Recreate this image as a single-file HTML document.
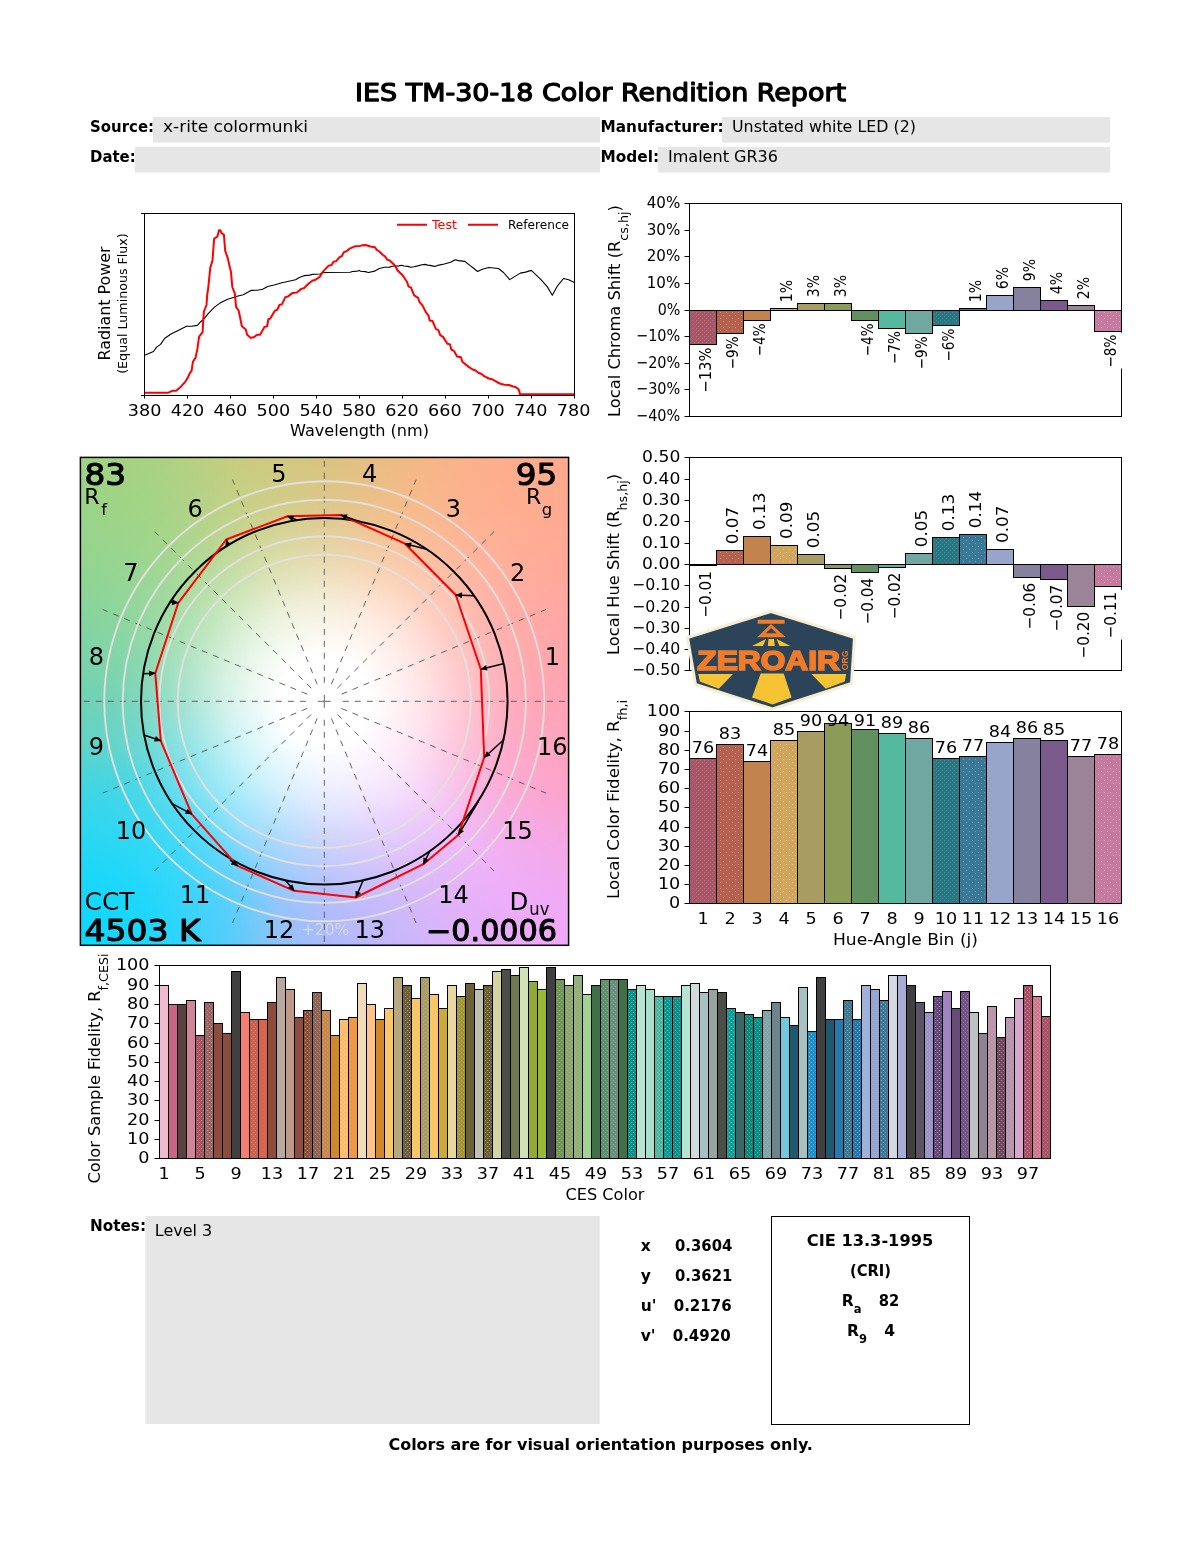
<!DOCTYPE html>
<html lang="en"><head><meta charset="utf-8"><title>IES TM-30-18 Color Rendition Report</title>
<style>
html,body{margin:0;padding:0;background:#fff}
#page{position:relative;width:1200px;height:1550px;overflow:hidden;background:#fff}
#cvgbg{position:absolute;left:80px;top:457px;width:489px;height:488.5px;background:radial-gradient(circle at 0% 100%, rgba(10,216,252,1) 0px, rgba(10,216,252,0.75) 70px, rgba(10,216,252,0) 200px),radial-gradient(circle at 100% 100%, rgba(240,165,250,0.8) 0px, rgba(240,165,250,0) 150px),radial-gradient(circle at 100% 0%, rgba(255,168,138,0.8) 0px, rgba(255,168,138,0) 150px),radial-gradient(circle at 0% 0%, rgba(156,212,126,0.6) 0px, rgba(156,212,126,0) 150px),radial-gradient(circle at 244.3px 244.3px,rgba(255,255,255,1) 0px, rgba(255,255,255,1) 45px, rgba(255,255,255,0.92) 60px, rgba(255,255,255,0.82) 80px, rgba(255,255,255,0.7) 100px, rgba(255,255,255,0.55) 120px, rgba(255,255,255,0.4) 140px, rgba(255,255,255,0.28) 160px, rgba(255,255,255,0.15) 183px, rgba(255,255,255,0.07) 210px, rgba(255,255,255,0.03) 244px, rgba(255,255,255,0) 300px),conic-gradient(from 90deg at 244.3px 244.3px,rgb(255, 160, 178) 0deg, rgb(252, 162, 205) 22.5deg, rgb(238, 178, 248) 45deg, rgb(208, 180, 250) 67.5deg, rgb(168, 184, 251) 90deg, rgb(115, 200, 250) 112.5deg, rgb(80, 214, 246) 135deg, rgb(75, 212, 220) 157.5deg, rgb(106, 208, 178) 180deg, rgb(135, 212, 152) 202.5deg, rgb(160, 212, 136) 225deg, rgb(195, 205, 126) 247.5deg, rgb(216, 194, 124) 270deg, rgb(245, 182, 130) 292.5deg, rgb(255, 176, 148) 315deg, rgb(255, 166, 160) 337.5deg, rgb(255, 160, 178) 360deg)}
svg{position:absolute;left:0;top:0}
text{font-family:"DejaVu Sans","Liberation Sans",sans-serif}
</style></head><body><div id="page">
<div id="cvgbg"></div>
<svg width="1200" height="1550" viewBox="0 0 1200 1550">
<defs>
<marker id="ah" viewBox="0 0 10 10" refX="9.5" refY="5" markerWidth="8" markerHeight="6.5" orient="auto" markerUnits="userSpaceOnUse"><path d="M0,0.5 L10,5 L0,9.5 z" fill="#000"/></marker>
<pattern id="dt0" width="4" height="4" patternUnits="userSpaceOnUse"><rect x="0" y="0" width="1" height="1" fill="#c87838" fill-opacity="0.8"/><rect x="2" y="2" width="1" height="1" fill="#c87838" fill-opacity="0.8"/></pattern><pattern id="dt1" width="6" height="6" patternUnits="userSpaceOnUse"><rect x="0" y="0" width="1" height="1" fill="#dca040" fill-opacity="0.8"/><rect x="3" y="3" width="1" height="1" fill="#dca040" fill-opacity="0.8"/></pattern><pattern id="dt3" width="6" height="6" patternUnits="userSpaceOnUse"><rect x="0" y="0" width="1" height="1" fill="#e8d070" fill-opacity="0.8"/><rect x="3" y="3" width="1" height="1" fill="#e8d070" fill-opacity="0.8"/></pattern><pattern id="dt5" width="4" height="4" patternUnits="userSpaceOnUse"><rect x="0" y="0" width="1" height="1" fill="#70a860" fill-opacity="0.8"/><rect x="2" y="2" width="1" height="1" fill="#70a860" fill-opacity="0.8"/></pattern><pattern id="dt9" width="4" height="4" patternUnits="userSpaceOnUse"><rect x="0" y="0" width="1" height="1" fill="#409878" fill-opacity="0.8"/><rect x="2" y="2" width="1" height="1" fill="#409878" fill-opacity="0.8"/></pattern><pattern id="dt10" width="6" height="6" patternUnits="userSpaceOnUse"><rect x="0" y="0" width="1" height="1" fill="#70a8c8" fill-opacity="0.8"/><rect x="3" y="3" width="1" height="1" fill="#70a8c8" fill-opacity="0.8"/></pattern><pattern id="dt15" width="6" height="6" patternUnits="userSpaceOnUse"><rect x="0" y="0" width="1" height="1" fill="#e0a0b8" fill-opacity="0.8"/><rect x="3" y="3" width="1" height="1" fill="#e0a0b8" fill-opacity="0.8"/></pattern>
<pattern id="dw" width="4" height="4" patternUnits="userSpaceOnUse"><rect x="1" y="0" width="1" height="1" fill="#e0b050" fill-opacity="0.55"/><rect x="3" y="2" width="1" height="1" fill="#e0b050" fill-opacity="0.55"/></pattern>
<pattern id="dc" width="4" height="4" patternUnits="userSpaceOnUse"><rect x="1" y="0" width="1" height="1" fill="#90c8e0" fill-opacity="0.5"/><rect x="3" y="2" width="1" height="1" fill="#90c8e0" fill-opacity="0.5"/></pattern>
</defs>

<text x="600.60" y="101.00" font-size="24.5" text-anchor="middle" textLength="491.00" lengthAdjust="spacingAndGlyphs" stroke="#000" stroke-width="1.25" stroke-linejoin="round">IES TM-30-18 Color Rendition Report</text>
<rect x="153" y="117" width="447" height="25.5" fill="#e6e6e6"/>
<rect x="135" y="147" width="465" height="25.5" fill="#e6e6e6"/>
<rect x="722" y="117" width="388" height="25.5" fill="#e6e6e6"/>
<rect x="658" y="147" width="452" height="25.5" fill="#e6e6e6"/>
<text x="90.00" y="132.00" font-size="15.5" font-weight="bold" textLength="64.00" lengthAdjust="spacingAndGlyphs">Source:</text>
<text x="90.00" y="162.00" font-size="15.5" font-weight="bold" textLength="45.70" lengthAdjust="spacingAndGlyphs">Date:</text>
<text x="600.60" y="132.00" font-size="15.5" font-weight="bold" textLength="123.00" lengthAdjust="spacingAndGlyphs">Manufacturer:</text>
<text x="600.60" y="162.00" font-size="15.5" font-weight="bold" textLength="58.50" lengthAdjust="spacingAndGlyphs">Model:</text>
<text x="163.00" y="132.00" font-size="16" textLength="145.00" lengthAdjust="spacingAndGlyphs">x-rite colormunki</text>
<text x="732.00" y="132.00" font-size="16" textLength="184.00" lengthAdjust="spacingAndGlyphs">Unstated white LED (2)</text>
<text x="668.00" y="162.00" font-size="16" textLength="110.00" lengthAdjust="spacingAndGlyphs">Imalent GR36</text>
<g fill="none">
<polyline stroke="#000" stroke-width="1.1" stroke-linejoin="round" points="144.6,355.3 153.5,351.5 156.8,346.9 160.6,344.4 164.5,338.5 171.0,334.0 178.7,330.2 186.5,326.3 191.6,326.3 197.4,325.4 200.6,321.8 203.2,319.8 208.4,313.4 214.8,306.9 220.0,303.1 227.7,299.2 238.1,296.0 243.2,294.7 251.0,290.4 257.4,290.2 262.6,289.3 267.7,286.5 274.2,285.0 281.9,282.8 287.7,281.5 295.5,279.8 299.4,277.5 304.5,275.6 309.7,275.1 312.3,274.4 320.0,274.0 323.9,272.5 350.3,272.2 352.3,271.5 357.4,271.1 359.4,270.4 360.6,271.2 365.2,271.6 368.4,272.5 374.8,271.1 379.4,268.5 384.5,267.3 389.7,267.1 392.3,266.3 398.7,265.9 401.9,265.3 403.9,266.0 407.7,266.4 411.0,267.3 414.2,266.7 418.7,265.6 421.9,264.7 425.2,264.4 427.7,265.1 430.0,265.4 434.5,266.4 437.7,265.4 444.2,264.0 450.6,262.2 455.2,259.7 458.4,260.6 464.8,261.4 477.7,271.5 481.6,269.5 488.7,267.5 498.4,268.5 503.5,272.5 509.7,279.6 520.3,273.1 525.5,272.1 531.3,270.4 541.0,279.6 547.4,286.9 552.3,295.3 557.7,285.6 563.5,278.5 568.7,279.8 574.3,282.4"/>
<polyline stroke="#f00" stroke-width="2" stroke-linejoin="round" points="144.6,392.7 168.4,392.7 172.3,390.8 176.1,390.8 180.6,386.9 185.2,381.8 187.7,377.9 189.7,373.4 191.6,370.8 192.9,361.8 195.5,357.9 197.4,348.9 199.1,336.6 202.6,332.1 203.2,321.1 203.9,311.5 206.5,305.0 207.1,296.0 208.4,286.3 209.3,277.3 210.3,267.6 212.5,260.5 213.3,249.5 214.2,238.5 217.4,236.6 219.0,230.2 220.3,230.2 221.3,232.7 223.9,234.7 225.2,250.8 227.7,257.9 229.9,267.6 231.0,272.1 232.3,286.9 234.8,293.4 236.1,306.9 238.7,310.8 241.9,326.3 245.8,329.5 247.1,334.7 251.0,337.9 253.5,337.3 257.4,334.7 260.0,334.7 264.5,326.9 267.1,326.3 268.4,319.2 270.3,318.5 274.8,310.8 277.4,309.5 279.4,305.0 281.9,304.4 285.2,297.3 287.7,296.6 292.3,293.1 296.8,292.5 301.3,288.9 303.9,288.2 308.4,283.7 312.3,280.7 315.5,279.8 320.0,276.6 322.6,272.1 326.5,267.8 329.0,265.6 331.6,265.0 333.5,261.8 336.1,261.1 339.4,257.3 341.9,256.0 343.9,252.1 346.5,251.2 349.7,248.6 354.8,246.3 360.0,245.9 363.9,245.0 366.5,245.3 370.3,246.5 374.8,247.2 376.8,249.8 379.4,251.5 382.6,254.7 385.2,256.6 387.1,259.6 389.7,260.5 392.9,263.5 395.5,266.3 397.4,270.2 402.6,275.3 407.1,282.0 408.4,286.3 411.0,287.6 414.2,295.3 418.1,297.9 419.4,301.8 422.6,305.6 425.8,312.1 428.4,315.3 429.7,320.5 432.6,321.1 435.8,328.9 438.4,330.2 440.3,335.3 442.9,336.6 447.4,343.7 450.0,344.4 451.3,349.5 453.9,350.8 457.1,356.6 461.0,357.3 462.3,361.8 468.7,366.9 472.6,369.5 475.2,370.2 478.4,372.7 481.6,374.0 484.2,376.2 488.7,378.5 491.9,379.2 495.8,381.4 499.7,383.5 504.2,384.7 508.7,385.0 512.6,386.3 515.8,387.2 518.4,389.1 519.4,391.5 519.9,394.3 574.3,394.3"/>
<rect x="144.5" y="213.5" width="430" height="182" stroke="#000" stroke-width="1"/>
<path stroke="#000" stroke-width="1" d="M141,213.5H144.5M141,395.5H144.5M144.5,395.5v3M187.5,395.5v3M230.5,395.5v3M273.5,395.5v3M316.5,395.5v3M359.5,395.5v3M402.5,395.5v3M445.5,395.5v3M488.5,395.5v3M531.5,395.5v3M574.5,395.5v3"/>
<path stroke="#f00" stroke-width="2" d="M397,224.7H427M468,224.7H498"/>
</g>
<text x="144.60" y="416.00" font-size="16" text-anchor="middle" textLength="33.59" lengthAdjust="spacingAndGlyphs">380</text>
<text x="187.50" y="416.00" font-size="16" text-anchor="middle" textLength="33.59" lengthAdjust="spacingAndGlyphs">420</text>
<text x="230.40" y="416.00" font-size="16" text-anchor="middle" textLength="33.59" lengthAdjust="spacingAndGlyphs">460</text>
<text x="273.30" y="416.00" font-size="16" text-anchor="middle" textLength="33.59" lengthAdjust="spacingAndGlyphs">500</text>
<text x="316.20" y="416.00" font-size="16" text-anchor="middle" textLength="33.59" lengthAdjust="spacingAndGlyphs">540</text>
<text x="359.10" y="416.00" font-size="16" text-anchor="middle" textLength="33.59" lengthAdjust="spacingAndGlyphs">580</text>
<text x="402.00" y="416.00" font-size="16" text-anchor="middle" textLength="33.59" lengthAdjust="spacingAndGlyphs">620</text>
<text x="444.90" y="416.00" font-size="16" text-anchor="middle" textLength="33.59" lengthAdjust="spacingAndGlyphs">660</text>
<text x="487.80" y="416.00" font-size="16" text-anchor="middle" textLength="33.59" lengthAdjust="spacingAndGlyphs">700</text>
<text x="530.70" y="416.00" font-size="16" text-anchor="middle" textLength="33.59" lengthAdjust="spacingAndGlyphs">740</text>
<text x="573.60" y="416.00" font-size="16" text-anchor="middle" textLength="33.59" lengthAdjust="spacingAndGlyphs">780</text>
<text x="359.50" y="436.30" font-size="16" text-anchor="middle" textLength="139.00" lengthAdjust="spacingAndGlyphs">Wavelength (nm)</text>
<text x="110.00" y="303.50" font-size="16" text-anchor="middle" textLength="114.00" lengthAdjust="spacingAndGlyphs" transform="rotate(-90 110.00 303.50)">Radiant Power</text>
<text x="126.50" y="303.50" font-size="12" text-anchor="middle" textLength="140.60" lengthAdjust="spacingAndGlyphs" transform="rotate(-90 126.50 303.50)">(Equal Luminous Flux)</text>
<text x="432.00" y="228.80" font-size="12.5" textLength="25.00" lengthAdjust="spacingAndGlyphs" fill="#f00">Test</text>
<text x="508.00" y="228.80" font-size="12.5" textLength="61.00" lengthAdjust="spacingAndGlyphs">Reference</text>
<rect x="689.5" y="203.5" width="432" height="213" fill="none" stroke="#000" stroke-width="1"/>
<rect x="697.00" y="345.35" width="20.5" height="48.40" fill="#fff"/>
<rect x="724.00" y="334.35" width="20.5" height="35.90" fill="#fff"/>
<rect x="751.00" y="321.35" width="20.5" height="35.90" fill="#fff"/>
<rect x="778.00" y="277.90" width="20.5" height="25.30" fill="#fff"/>
<rect x="805.00" y="272.90" width="20.5" height="25.30" fill="#fff"/>
<rect x="832.00" y="272.90" width="20.5" height="25.30" fill="#fff"/>
<rect x="859.00" y="321.35" width="20.5" height="35.90" fill="#fff"/>
<rect x="886.00" y="329.10" width="20.5" height="35.90" fill="#fff"/>
<rect x="913.00" y="334.35" width="20.5" height="35.90" fill="#fff"/>
<rect x="940.00" y="326.60" width="20.5" height="35.90" fill="#fff"/>
<rect x="967.00" y="277.90" width="20.5" height="25.30" fill="#fff"/>
<rect x="994.00" y="264.90" width="20.5" height="25.30" fill="#fff"/>
<rect x="1021.00" y="256.90" width="20.5" height="25.30" fill="#fff"/>
<rect x="1048.00" y="269.90" width="20.5" height="25.30" fill="#fff"/>
<rect x="1075.00" y="274.90" width="20.5" height="25.30" fill="#fff"/>
<rect x="1102.00" y="332.60" width="20.5" height="35.90" fill="#fff"/>
<rect x="689.50" y="310.50" width="27.0" height="34.00" fill="#a3566d" stroke="#000" stroke-width="1"/>
<rect x="690.50" y="311.50" width="25.0" height="32.00" fill="url(#dt0)"/>
<rect x="716.50" y="310.50" width="27.0" height="23.00" fill="#b46152" stroke="#000" stroke-width="1"/>
<rect x="717.50" y="311.50" width="25.0" height="21.00" fill="url(#dt1)"/>
<rect x="743.50" y="310.50" width="27.0" height="10.00" fill="#c3834d" stroke="#000" stroke-width="1"/>
<rect x="770.50" y="308.50" width="27.0" height="2.00" fill="#cfa55f" stroke="#000" stroke-width="1"/>
<rect x="797.50" y="303.50" width="27.0" height="7.00" fill="#a89c60" stroke="#000" stroke-width="1"/>
<rect x="824.50" y="303.50" width="27.0" height="7.00" fill="#8e9a55" stroke="#000" stroke-width="1"/>
<rect x="825.50" y="304.50" width="25.0" height="5.00" fill="url(#dt5)"/>
<rect x="851.50" y="310.50" width="27.0" height="10.00" fill="#63905f" stroke="#000" stroke-width="1"/>
<rect x="878.50" y="310.50" width="27.0" height="18.00" fill="#54b99f" stroke="#000" stroke-width="1"/>
<rect x="905.50" y="310.50" width="27.0" height="23.00" fill="#6fa8a0" stroke="#000" stroke-width="1"/>
<rect x="932.50" y="310.50" width="27.0" height="15.00" fill="#2a7686" stroke="#000" stroke-width="1"/>
<rect x="933.50" y="311.50" width="25.0" height="13.00" fill="url(#dt9)"/>
<rect x="959.50" y="308.50" width="27.0" height="2.00" fill="#3b7896" stroke="#000" stroke-width="1"/>
<rect x="986.50" y="295.50" width="27.0" height="15.00" fill="#98a5cb" stroke="#000" stroke-width="1"/>
<rect x="1013.50" y="287.50" width="27.0" height="23.00" fill="#86819f" stroke="#000" stroke-width="1"/>
<rect x="1040.50" y="300.50" width="27.0" height="10.00" fill="#795a8b" stroke="#000" stroke-width="1"/>
<rect x="1067.50" y="305.50" width="27.0" height="5.00" fill="#9b8497" stroke="#000" stroke-width="1"/>
<rect x="1094.50" y="310.50" width="27.0" height="21.00" fill="#c57a9f" stroke="#000" stroke-width="1"/>
<rect x="1095.50" y="311.50" width="25.0" height="19.00" fill="url(#dt15)"/>
<path stroke="#000" stroke-width="1" fill="none" d="M684.5,203.50h5M684.5,230.50h5M684.5,256.50h5M684.5,283.50h5M684.5,310.50h5M684.5,336.50h5M684.5,363.50h5M684.5,389.50h5M684.5,416.50h5"/>
<text x="680.30" y="208.20" font-size="16" text-anchor="end" textLength="33.60" lengthAdjust="spacingAndGlyphs">40%</text>
<text x="680.30" y="235.20" font-size="16" text-anchor="end" textLength="33.60" lengthAdjust="spacingAndGlyphs">30%</text>
<text x="680.30" y="261.20" font-size="16" text-anchor="end" textLength="33.60" lengthAdjust="spacingAndGlyphs">20%</text>
<text x="680.30" y="288.20" font-size="16" text-anchor="end" textLength="33.60" lengthAdjust="spacingAndGlyphs">10%</text>
<text x="680.30" y="315.20" font-size="16" text-anchor="end" textLength="22.60" lengthAdjust="spacingAndGlyphs">0%</text>
<text x="680.30" y="341.20" font-size="16" text-anchor="end" textLength="44.30" lengthAdjust="spacingAndGlyphs">−10%</text>
<text x="680.30" y="368.20" font-size="16" text-anchor="end" textLength="44.30" lengthAdjust="spacingAndGlyphs">−20%</text>
<text x="680.30" y="394.20" font-size="16" text-anchor="end" textLength="44.30" lengthAdjust="spacingAndGlyphs">−30%</text>
<text x="680.30" y="421.20" font-size="16" text-anchor="end" textLength="44.30" lengthAdjust="spacingAndGlyphs">−40%</text>
<text x="619.50" y="311.00" font-size="16" text-anchor="middle" textLength="212.00" lengthAdjust="spacingAndGlyphs" transform="rotate(-90 619.50 311.00)">Local Chroma Shift (R<tspan font-size="12.5" dy="8">cs,hj</tspan><tspan dy="-8">)</tspan></text>
<text x="711.10" y="392.75" font-size="16" textLength="45.40" lengthAdjust="spacingAndGlyphs" transform="rotate(-90 711.10 392.75)">−13%</text>
<text x="738.10" y="369.25" font-size="16" textLength="32.90" lengthAdjust="spacingAndGlyphs" transform="rotate(-90 738.10 369.25)">−9%</text>
<text x="765.10" y="356.25" font-size="16" textLength="32.90" lengthAdjust="spacingAndGlyphs" transform="rotate(-90 765.10 356.25)">−4%</text>
<text x="792.10" y="302.20" font-size="16" textLength="22.30" lengthAdjust="spacingAndGlyphs" transform="rotate(-90 792.10 302.20)">1%</text>
<text x="819.10" y="297.20" font-size="16" textLength="22.30" lengthAdjust="spacingAndGlyphs" transform="rotate(-90 819.10 297.20)">3%</text>
<text x="846.10" y="297.20" font-size="16" textLength="22.30" lengthAdjust="spacingAndGlyphs" transform="rotate(-90 846.10 297.20)">3%</text>
<text x="873.10" y="356.25" font-size="16" textLength="32.90" lengthAdjust="spacingAndGlyphs" transform="rotate(-90 873.10 356.25)">−4%</text>
<text x="900.10" y="364.00" font-size="16" textLength="32.90" lengthAdjust="spacingAndGlyphs" transform="rotate(-90 900.10 364.00)">−7%</text>
<text x="927.10" y="369.25" font-size="16" textLength="32.90" lengthAdjust="spacingAndGlyphs" transform="rotate(-90 927.10 369.25)">−9%</text>
<text x="954.10" y="361.50" font-size="16" textLength="32.90" lengthAdjust="spacingAndGlyphs" transform="rotate(-90 954.10 361.50)">−6%</text>
<text x="981.10" y="302.20" font-size="16" textLength="22.30" lengthAdjust="spacingAndGlyphs" transform="rotate(-90 981.10 302.20)">1%</text>
<text x="1008.10" y="289.20" font-size="16" textLength="22.30" lengthAdjust="spacingAndGlyphs" transform="rotate(-90 1008.10 289.20)">6%</text>
<text x="1035.10" y="281.20" font-size="16" textLength="22.30" lengthAdjust="spacingAndGlyphs" transform="rotate(-90 1035.10 281.20)">9%</text>
<text x="1062.10" y="294.20" font-size="16" textLength="22.30" lengthAdjust="spacingAndGlyphs" transform="rotate(-90 1062.10 294.20)">4%</text>
<text x="1089.10" y="299.20" font-size="16" textLength="22.30" lengthAdjust="spacingAndGlyphs" transform="rotate(-90 1089.10 299.20)">2%</text>
<text x="1116.10" y="367.50" font-size="16" textLength="32.90" lengthAdjust="spacingAndGlyphs" transform="rotate(-90 1116.10 367.50)">−8%</text>
<rect x="689.5" y="457.5" width="432" height="213" fill="none" stroke="#000" stroke-width="1"/>
<rect x="697.00" y="569.00" width="20.5" height="49.80" fill="#fff"/>
<rect x="724.00" y="504.80" width="20.5" height="40.50" fill="#fff"/>
<rect x="751.00" y="490.55" width="20.5" height="40.50" fill="#fff"/>
<rect x="778.00" y="499.55" width="20.5" height="40.50" fill="#fff"/>
<rect x="805.00" y="508.80" width="20.5" height="40.50" fill="#fff"/>
<rect x="832.00" y="571.75" width="20.5" height="49.80" fill="#fff"/>
<rect x="859.00" y="575.75" width="20.5" height="49.80" fill="#fff"/>
<rect x="886.00" y="570.50" width="20.5" height="49.80" fill="#fff"/>
<rect x="913.00" y="507.80" width="20.5" height="40.50" fill="#fff"/>
<rect x="940.00" y="491.80" width="20.5" height="40.50" fill="#fff"/>
<rect x="967.00" y="488.80" width="20.5" height="40.50" fill="#fff"/>
<rect x="994.00" y="503.55" width="20.5" height="40.50" fill="#fff"/>
<rect x="1021.00" y="580.75" width="20.5" height="49.80" fill="#fff"/>
<rect x="1048.00" y="582.75" width="20.5" height="49.80" fill="#fff"/>
<rect x="1075.00" y="609.75" width="20.5" height="49.80" fill="#fff"/>
<rect x="1102.00" y="589.75" width="20.5" height="49.80" fill="#fff"/>
<rect x="689.50" y="564.50" width="27.0" height="1.00" fill="#a3566d" stroke="#000" stroke-width="1"/>
<rect x="716.50" y="550.50" width="27.0" height="14.00" fill="#b46152" stroke="#000" stroke-width="1"/>
<rect x="717.50" y="551.50" width="25.0" height="12.00" fill="url(#dt1)"/>
<rect x="743.50" y="536.50" width="27.0" height="28.00" fill="#c3834d" stroke="#000" stroke-width="1"/>
<rect x="770.50" y="545.50" width="27.0" height="19.00" fill="#cfa55f" stroke="#000" stroke-width="1"/>
<rect x="771.50" y="546.50" width="25.0" height="17.00" fill="url(#dt3)"/>
<rect x="797.50" y="554.50" width="27.0" height="10.00" fill="#a89c60" stroke="#000" stroke-width="1"/>
<rect x="824.50" y="564.50" width="27.0" height="4.00" fill="#8e9a55" stroke="#000" stroke-width="1"/>
<rect x="851.50" y="564.50" width="27.0" height="8.00" fill="#63905f" stroke="#000" stroke-width="1"/>
<rect x="878.50" y="564.50" width="27.0" height="3.00" fill="#54b99f" stroke="#000" stroke-width="1"/>
<rect x="905.50" y="553.50" width="27.0" height="11.00" fill="#6fa8a0" stroke="#000" stroke-width="1"/>
<rect x="932.50" y="537.50" width="27.0" height="27.00" fill="#2a7686" stroke="#000" stroke-width="1"/>
<rect x="933.50" y="538.50" width="25.0" height="25.00" fill="url(#dt9)"/>
<rect x="959.50" y="534.50" width="27.0" height="30.00" fill="#3b7896" stroke="#000" stroke-width="1"/>
<rect x="960.50" y="535.50" width="25.0" height="28.00" fill="url(#dt10)"/>
<rect x="986.50" y="549.50" width="27.0" height="15.00" fill="#98a5cb" stroke="#000" stroke-width="1"/>
<rect x="1013.50" y="564.50" width="27.0" height="13.00" fill="#86819f" stroke="#000" stroke-width="1"/>
<rect x="1040.50" y="564.50" width="27.0" height="15.00" fill="#795a8b" stroke="#000" stroke-width="1"/>
<rect x="1067.50" y="564.50" width="27.0" height="42.00" fill="#9b8497" stroke="#000" stroke-width="1"/>
<rect x="1094.50" y="564.50" width="27.0" height="22.00" fill="#c57a9f" stroke="#000" stroke-width="1"/>
<rect x="1095.50" y="565.50" width="25.0" height="20.00" fill="url(#dt15)"/>
<path stroke="#000" stroke-width="1" fill="none" d="M684.5,457.50h5M684.5,479.50h5M684.5,500.50h5M684.5,521.50h5M684.5,543.50h5M684.5,564.50h5M684.5,585.50h5M684.5,607.50h5M684.5,628.50h5M684.5,649.50h5M684.5,670.50h5"/>
<text x="680.30" y="462.20" font-size="16" text-anchor="end" textLength="38.20" lengthAdjust="spacingAndGlyphs">0.50</text>
<text x="680.30" y="484.20" font-size="16" text-anchor="end" textLength="38.20" lengthAdjust="spacingAndGlyphs">0.40</text>
<text x="680.30" y="505.20" font-size="16" text-anchor="end" textLength="38.20" lengthAdjust="spacingAndGlyphs">0.30</text>
<text x="680.30" y="526.20" font-size="16" text-anchor="end" textLength="38.20" lengthAdjust="spacingAndGlyphs">0.20</text>
<text x="680.30" y="548.20" font-size="16" text-anchor="end" textLength="38.20" lengthAdjust="spacingAndGlyphs">0.10</text>
<text x="680.30" y="569.20" font-size="16" text-anchor="end" textLength="38.20" lengthAdjust="spacingAndGlyphs">0.00</text>
<text x="680.30" y="590.20" font-size="16" text-anchor="end" textLength="48.20" lengthAdjust="spacingAndGlyphs">−0.10</text>
<text x="680.30" y="612.20" font-size="16" text-anchor="end" textLength="48.20" lengthAdjust="spacingAndGlyphs">−0.20</text>
<text x="680.30" y="633.20" font-size="16" text-anchor="end" textLength="48.20" lengthAdjust="spacingAndGlyphs">−0.30</text>
<text x="680.30" y="654.20" font-size="16" text-anchor="end" textLength="48.20" lengthAdjust="spacingAndGlyphs">−0.40</text>
<text x="680.30" y="675.20" font-size="16" text-anchor="end" textLength="48.20" lengthAdjust="spacingAndGlyphs">−0.50</text>
<text x="619.50" y="564.40" font-size="16" text-anchor="middle" textLength="181.00" lengthAdjust="spacingAndGlyphs" transform="rotate(-90 619.50 564.40)">Local Hue Shift (R<tspan font-size="12.5" dy="8">hs,hj</tspan><tspan dy="-8">)</tspan></text>
<text x="711.30" y="617.80" font-size="16" textLength="46.80" lengthAdjust="spacingAndGlyphs" transform="rotate(-90 711.30 617.80)">−0.01</text>
<text x="738.30" y="544.30" font-size="16" textLength="37.50" lengthAdjust="spacingAndGlyphs" transform="rotate(-90 738.30 544.30)">0.07</text>
<text x="765.30" y="530.05" font-size="16" textLength="37.50" lengthAdjust="spacingAndGlyphs" transform="rotate(-90 765.30 530.05)">0.13</text>
<text x="792.30" y="539.05" font-size="16" textLength="37.50" lengthAdjust="spacingAndGlyphs" transform="rotate(-90 792.30 539.05)">0.09</text>
<text x="819.30" y="548.30" font-size="16" textLength="37.50" lengthAdjust="spacingAndGlyphs" transform="rotate(-90 819.30 548.30)">0.05</text>
<text x="846.30" y="620.55" font-size="16" textLength="46.80" lengthAdjust="spacingAndGlyphs" transform="rotate(-90 846.30 620.55)">−0.02</text>
<text x="873.30" y="624.55" font-size="16" textLength="46.80" lengthAdjust="spacingAndGlyphs" transform="rotate(-90 873.30 624.55)">−0.04</text>
<text x="900.30" y="619.30" font-size="16" textLength="46.80" lengthAdjust="spacingAndGlyphs" transform="rotate(-90 900.30 619.30)">−0.02</text>
<text x="927.30" y="547.30" font-size="16" textLength="37.50" lengthAdjust="spacingAndGlyphs" transform="rotate(-90 927.30 547.30)">0.05</text>
<text x="954.30" y="531.30" font-size="16" textLength="37.50" lengthAdjust="spacingAndGlyphs" transform="rotate(-90 954.30 531.30)">0.13</text>
<text x="981.30" y="528.30" font-size="16" textLength="37.50" lengthAdjust="spacingAndGlyphs" transform="rotate(-90 981.30 528.30)">0.14</text>
<text x="1008.30" y="543.05" font-size="16" textLength="37.50" lengthAdjust="spacingAndGlyphs" transform="rotate(-90 1008.30 543.05)">0.07</text>
<text x="1035.30" y="629.55" font-size="16" textLength="46.80" lengthAdjust="spacingAndGlyphs" transform="rotate(-90 1035.30 629.55)">−0.06</text>
<text x="1062.30" y="631.55" font-size="16" textLength="46.80" lengthAdjust="spacingAndGlyphs" transform="rotate(-90 1062.30 631.55)">−0.07</text>
<text x="1089.30" y="658.55" font-size="16" textLength="46.80" lengthAdjust="spacingAndGlyphs" transform="rotate(-90 1089.30 658.55)">−0.20</text>
<text x="1116.30" y="638.55" font-size="16" textLength="46.80" lengthAdjust="spacingAndGlyphs" transform="rotate(-90 1116.30 638.55)">−0.11</text>
<rect x="689.5" y="711.5" width="432" height="192" fill="none" stroke="#000" stroke-width="1"/>
<rect x="689.50" y="758.50" width="27.0" height="145.00" fill="#a3566d" stroke="#000" stroke-width="1"/>
<rect x="690.50" y="759.50" width="25.0" height="143.00" fill="url(#dt0)"/>
<rect x="716.50" y="744.50" width="27.0" height="159.00" fill="#b46152" stroke="#000" stroke-width="1"/>
<rect x="717.50" y="745.50" width="25.0" height="157.00" fill="url(#dt1)"/>
<rect x="743.50" y="761.50" width="27.0" height="142.00" fill="#c3834d" stroke="#000" stroke-width="1"/>
<rect x="770.50" y="740.50" width="27.0" height="163.00" fill="#cfa55f" stroke="#000" stroke-width="1"/>
<rect x="771.50" y="741.50" width="25.0" height="161.00" fill="url(#dt3)"/>
<rect x="797.50" y="731.50" width="27.0" height="172.00" fill="#a89c60" stroke="#000" stroke-width="1"/>
<rect x="824.50" y="723.50" width="27.0" height="180.00" fill="#8e9a55" stroke="#000" stroke-width="1"/>
<rect x="825.50" y="724.50" width="25.0" height="178.00" fill="url(#dt5)"/>
<rect x="851.50" y="729.50" width="27.0" height="174.00" fill="#63905f" stroke="#000" stroke-width="1"/>
<rect x="878.50" y="733.50" width="27.0" height="170.00" fill="#54b99f" stroke="#000" stroke-width="1"/>
<rect x="905.50" y="738.50" width="27.0" height="165.00" fill="#6fa8a0" stroke="#000" stroke-width="1"/>
<rect x="932.50" y="758.50" width="27.0" height="145.00" fill="#2a7686" stroke="#000" stroke-width="1"/>
<rect x="933.50" y="759.50" width="25.0" height="143.00" fill="url(#dt9)"/>
<rect x="959.50" y="756.50" width="27.0" height="147.00" fill="#3b7896" stroke="#000" stroke-width="1"/>
<rect x="960.50" y="757.50" width="25.0" height="145.00" fill="url(#dt10)"/>
<rect x="986.50" y="742.50" width="27.0" height="161.00" fill="#98a5cb" stroke="#000" stroke-width="1"/>
<rect x="1013.50" y="738.50" width="27.0" height="165.00" fill="#86819f" stroke="#000" stroke-width="1"/>
<rect x="1040.50" y="740.50" width="27.0" height="163.00" fill="#795a8b" stroke="#000" stroke-width="1"/>
<rect x="1067.50" y="756.50" width="27.0" height="147.00" fill="#9b8497" stroke="#000" stroke-width="1"/>
<rect x="1094.50" y="754.50" width="27.0" height="149.00" fill="#c57a9f" stroke="#000" stroke-width="1"/>
<rect x="1095.50" y="755.50" width="25.0" height="147.00" fill="url(#dt15)"/>
<path stroke="#000" stroke-width="1" fill="none" d="M684.5,711.50h5M684.5,731.50h5M684.5,750.50h5M684.5,769.50h5M684.5,788.50h5M684.5,807.50h5M684.5,827.50h5M684.5,846.50h5M684.5,865.50h5M684.5,884.50h5M684.5,903.50h5"/>
<text x="680.30" y="716.20" font-size="16" text-anchor="end" textLength="33.59" lengthAdjust="spacingAndGlyphs">100</text>
<text x="680.30" y="736.20" font-size="16" text-anchor="end" textLength="22.40" lengthAdjust="spacingAndGlyphs">90</text>
<text x="680.30" y="755.20" font-size="16" text-anchor="end" textLength="22.40" lengthAdjust="spacingAndGlyphs">80</text>
<text x="680.30" y="774.20" font-size="16" text-anchor="end" textLength="22.40" lengthAdjust="spacingAndGlyphs">70</text>
<text x="680.30" y="793.20" font-size="16" text-anchor="end" textLength="22.40" lengthAdjust="spacingAndGlyphs">60</text>
<text x="680.30" y="812.20" font-size="16" text-anchor="end" textLength="22.40" lengthAdjust="spacingAndGlyphs">50</text>
<text x="680.30" y="832.20" font-size="16" text-anchor="end" textLength="22.40" lengthAdjust="spacingAndGlyphs">40</text>
<text x="680.30" y="851.20" font-size="16" text-anchor="end" textLength="22.40" lengthAdjust="spacingAndGlyphs">30</text>
<text x="680.30" y="870.20" font-size="16" text-anchor="end" textLength="22.40" lengthAdjust="spacingAndGlyphs">20</text>
<text x="680.30" y="889.20" font-size="16" text-anchor="end" textLength="22.40" lengthAdjust="spacingAndGlyphs">10</text>
<text x="680.30" y="908.20" font-size="16" text-anchor="end" textLength="11.20" lengthAdjust="spacingAndGlyphs">0</text>
<text x="703.00" y="752.50" font-size="16" text-anchor="middle" textLength="22.40" lengthAdjust="spacingAndGlyphs">76</text>
<text x="703.00" y="923.80" font-size="16" text-anchor="middle" textLength="11.20" lengthAdjust="spacingAndGlyphs">1</text>
<text x="730.00" y="738.50" font-size="16" text-anchor="middle" textLength="22.40" lengthAdjust="spacingAndGlyphs">83</text>
<text x="730.00" y="923.80" font-size="16" text-anchor="middle" textLength="11.20" lengthAdjust="spacingAndGlyphs">2</text>
<text x="757.00" y="755.50" font-size="16" text-anchor="middle" textLength="22.40" lengthAdjust="spacingAndGlyphs">74</text>
<text x="757.00" y="923.80" font-size="16" text-anchor="middle" textLength="11.20" lengthAdjust="spacingAndGlyphs">3</text>
<text x="784.00" y="734.50" font-size="16" text-anchor="middle" textLength="22.40" lengthAdjust="spacingAndGlyphs">85</text>
<text x="784.00" y="923.80" font-size="16" text-anchor="middle" textLength="11.20" lengthAdjust="spacingAndGlyphs">4</text>
<text x="811.00" y="725.50" font-size="16" text-anchor="middle" textLength="22.40" lengthAdjust="spacingAndGlyphs">90</text>
<text x="811.00" y="923.80" font-size="16" text-anchor="middle" textLength="11.20" lengthAdjust="spacingAndGlyphs">5</text>
<text x="838.00" y="725.50" font-size="16" text-anchor="middle" textLength="22.40" lengthAdjust="spacingAndGlyphs">94</text>
<text x="838.00" y="923.80" font-size="16" text-anchor="middle" textLength="11.20" lengthAdjust="spacingAndGlyphs">6</text>
<text x="865.00" y="725.50" font-size="16" text-anchor="middle" textLength="22.40" lengthAdjust="spacingAndGlyphs">91</text>
<text x="865.00" y="923.80" font-size="16" text-anchor="middle" textLength="11.20" lengthAdjust="spacingAndGlyphs">7</text>
<text x="892.00" y="727.50" font-size="16" text-anchor="middle" textLength="22.40" lengthAdjust="spacingAndGlyphs">89</text>
<text x="892.00" y="923.80" font-size="16" text-anchor="middle" textLength="11.20" lengthAdjust="spacingAndGlyphs">8</text>
<text x="919.00" y="732.50" font-size="16" text-anchor="middle" textLength="22.40" lengthAdjust="spacingAndGlyphs">86</text>
<text x="919.00" y="923.80" font-size="16" text-anchor="middle" textLength="11.20" lengthAdjust="spacingAndGlyphs">9</text>
<text x="946.00" y="752.50" font-size="16" text-anchor="middle" textLength="22.40" lengthAdjust="spacingAndGlyphs">76</text>
<text x="946.00" y="923.80" font-size="16" text-anchor="middle" textLength="22.40" lengthAdjust="spacingAndGlyphs">10</text>
<text x="973.00" y="750.50" font-size="16" text-anchor="middle" textLength="22.40" lengthAdjust="spacingAndGlyphs">77</text>
<text x="973.00" y="923.80" font-size="16" text-anchor="middle" textLength="22.40" lengthAdjust="spacingAndGlyphs">11</text>
<text x="1000.00" y="736.50" font-size="16" text-anchor="middle" textLength="22.40" lengthAdjust="spacingAndGlyphs">84</text>
<text x="1000.00" y="923.80" font-size="16" text-anchor="middle" textLength="22.40" lengthAdjust="spacingAndGlyphs">12</text>
<text x="1027.00" y="732.50" font-size="16" text-anchor="middle" textLength="22.40" lengthAdjust="spacingAndGlyphs">86</text>
<text x="1027.00" y="923.80" font-size="16" text-anchor="middle" textLength="22.40" lengthAdjust="spacingAndGlyphs">13</text>
<text x="1054.00" y="734.50" font-size="16" text-anchor="middle" textLength="22.40" lengthAdjust="spacingAndGlyphs">85</text>
<text x="1054.00" y="923.80" font-size="16" text-anchor="middle" textLength="22.40" lengthAdjust="spacingAndGlyphs">14</text>
<text x="1081.00" y="750.50" font-size="16" text-anchor="middle" textLength="22.40" lengthAdjust="spacingAndGlyphs">77</text>
<text x="1081.00" y="923.80" font-size="16" text-anchor="middle" textLength="22.40" lengthAdjust="spacingAndGlyphs">15</text>
<text x="1108.00" y="748.50" font-size="16" text-anchor="middle" textLength="22.40" lengthAdjust="spacingAndGlyphs">78</text>
<text x="1108.00" y="923.80" font-size="16" text-anchor="middle" textLength="22.40" lengthAdjust="spacingAndGlyphs">16</text>
<text x="905.50" y="944.50" font-size="16" text-anchor="middle" textLength="145.00" lengthAdjust="spacingAndGlyphs">Hue-Angle Bin (j)</text>
<text x="619.50" y="799.40" font-size="16" text-anchor="middle" textLength="199.30" lengthAdjust="spacingAndGlyphs" transform="rotate(-90 619.50 799.40)">Local Color Fidelity, R<tspan font-size="12.5" dy="8">fh,i</tspan></text>
<g fill="none">
<path stroke="#555" stroke-width="0.9" stroke-dasharray="6 6" d="M342.8,701.3L568.3,701.3M341.4,694.2L546.0,609.5M337.4,688.2L494.0,531.6M331.4,684.2L416.1,479.6M324.3,682.8L324.3,457.3M317.2,684.2L232.5,479.6M311.2,688.2L154.6,531.6M307.2,694.2L102.6,609.5M305.8,701.3L80.3,701.3M307.2,708.4L102.6,793.1M311.2,714.4L154.6,871.0M317.2,718.4L232.5,923.0M324.3,719.8L324.3,945.3M331.4,718.4L416.1,923.0M337.4,714.4L494.0,871.0M341.4,708.4L546.0,793.1"/>
<circle cx="324.3" cy="701.3" r="146.6" stroke="#e2dfdc" stroke-width="1.9"/>
<circle cx="324.3" cy="701.3" r="165.0" stroke="#e2dfdc" stroke-width="1.9"/>
<circle cx="324.3" cy="701.3" r="201.6" stroke="#e2dfdc" stroke-width="1.9"/>
<circle cx="324.3" cy="701.3" r="220.0" stroke="#e2dfdc" stroke-width="1.9"/>
<circle cx="324.3" cy="701.3" r="183.3" stroke="#000" stroke-width="2"/>
<polygon stroke="#f00" stroke-width="2" stroke-linejoin="round" points="480.8,669.2 455.8,595.0 405.0,543.7 340.8,515.0 287.5,516.2 226.3,539.5 178.3,602.8 155.3,673.3 160.8,740.8 191.7,814.2 237.5,865.8 294.2,890.8 355.8,897.5 423.3,864.2 458.3,835.0 484.2,757.5"/>
<line x1="503.3" y1="663.7" x2="480.8" y2="669.2" stroke="#000" stroke-width="1.5" marker-end="url(#ah)"/>
<line x1="474.2" y1="595.8" x2="455.8" y2="595.0" stroke="#000" stroke-width="1.5" marker-end="url(#ah)"/>
<line x1="426.7" y1="549.2" x2="405.0" y2="543.7" stroke="#000" stroke-width="1.5" marker-end="url(#ah)"/>
<line x1="359.9" y1="521.8" x2="340.8" y2="515.0" stroke="#000" stroke-width="1.5" marker-end="url(#ah)"/>
<line x1="296.7" y1="520.0" x2="287.5" y2="516.2" stroke="#000" stroke-width="1.5" marker-end="url(#ah)"/>
<line x1="228.3" y1="545.8" x2="226.3" y2="539.5" stroke="#000" stroke-width="1.5" marker-end="url(#ah)"/>
<line x1="169.5" y1="602.0" x2="178.3" y2="602.8" stroke="#000" stroke-width="1.5" marker-end="url(#ah)"/>
<line x1="143.0" y1="673.7" x2="155.3" y2="673.3" stroke="#000" stroke-width="1.5" marker-end="url(#ah)"/>
<line x1="144.7" y1="735.3" x2="160.8" y2="740.8" stroke="#000" stroke-width="1.5" marker-end="url(#ah)"/>
<line x1="171.7" y1="803.3" x2="191.7" y2="814.2" stroke="#000" stroke-width="1.5" marker-end="url(#ah)"/>
<line x1="230.0" y1="860.0" x2="237.5" y2="865.8" stroke="#000" stroke-width="1.5" marker-end="url(#ah)"/>
<line x1="285.8" y1="880.8" x2="294.2" y2="890.8" stroke="#000" stroke-width="1.5" marker-end="url(#ah)"/>
<line x1="363.3" y1="880.0" x2="355.8" y2="897.5" stroke="#000" stroke-width="1.5" marker-end="url(#ah)"/>
<line x1="430.0" y1="850.8" x2="423.3" y2="864.2" stroke="#000" stroke-width="1.5" marker-end="url(#ah)"/>
<line x1="478.3" y1="801.7" x2="458.3" y2="835.0" stroke="#000" stroke-width="1.5" marker-end="url(#ah)"/>
<line x1="504.2" y1="739.2" x2="484.2" y2="757.5" stroke="#000" stroke-width="1.5" marker-end="url(#ah)"/>
<path stroke="#555" stroke-width="0.9" d="M317.8,701.3h13M324.3,694.8v13"/>
<rect x="80.4" y="457.4" width="488.2" height="487.9" stroke="#000" stroke-width="1.5"/>
</g>
<text x="325.20" y="841.80" font-size="16" text-anchor="middle" textLength="44.50" lengthAdjust="spacingAndGlyphs" fill="#dcdcdc" fill-opacity="0.5">−20%</text>
<text x="325.50" y="935.00" font-size="16" text-anchor="middle" textLength="47.50" lengthAdjust="spacingAndGlyphs" fill="#dcdcdc" fill-opacity="0.9">+20%</text>
<text x="552.33" y="664.64" font-size="24" text-anchor="middle">1</text>
<text x="517.62" y="580.83" font-size="24" text-anchor="middle">2</text>
<text x="453.47" y="516.68" font-size="24" text-anchor="middle">3</text>
<text x="369.66" y="481.97" font-size="24" text-anchor="middle">4</text>
<text x="278.94" y="481.97" font-size="24" text-anchor="middle">5</text>
<text x="195.13" y="516.68" font-size="24" text-anchor="middle">6</text>
<text x="130.98" y="580.83" font-size="24" text-anchor="middle">7</text>
<text x="96.27" y="664.64" font-size="24" text-anchor="middle">8</text>
<text x="96.27" y="755.36" font-size="24" text-anchor="middle">9</text>
<text x="130.98" y="839.17" font-size="24" text-anchor="middle">10</text>
<text x="195.13" y="903.32" font-size="24" text-anchor="middle">11</text>
<text x="278.94" y="938.03" font-size="24" text-anchor="middle">12</text>
<text x="369.66" y="938.03" font-size="24" text-anchor="middle">13</text>
<text x="453.47" y="903.32" font-size="24" text-anchor="middle">14</text>
<text x="517.62" y="839.17" font-size="24" text-anchor="middle">15</text>
<text x="552.33" y="755.36" font-size="24" text-anchor="middle">16</text>
<text x="84.60" y="485.30" font-size="30.5" textLength="41.50" lengthAdjust="spacingAndGlyphs" stroke="#000" stroke-width="1.15" stroke-linejoin="round">83</text>
<text x="557.30" y="485.30" font-size="30.5" text-anchor="end" textLength="41.50" lengthAdjust="spacingAndGlyphs" stroke="#000" stroke-width="1.15" stroke-linejoin="round">95</text>
<text x="84.20" y="504.20" font-size="22">R</text>
<text x="101.20" y="515.30" font-size="16.5">f</text>
<text x="526.00" y="504.20" font-size="22">R</text>
<text x="541.80" y="515.30" font-size="16.5">g</text>
<text x="84.50" y="909.70" font-size="24.5" textLength="50.00" lengthAdjust="spacingAndGlyphs">CCT</text>
<text x="84.60" y="940.60" font-size="30" textLength="116.00" lengthAdjust="spacingAndGlyphs" stroke="#000" stroke-width="1.15" stroke-linejoin="round">4503 K</text>
<text x="509.60" y="909.70" font-size="24.5">D</text>
<text x="529.30" y="914.70" font-size="17.5" textLength="20.00" lengthAdjust="spacingAndGlyphs">uv</text>
<text x="557.00" y="940.80" font-size="30" text-anchor="end" textLength="131.00" lengthAdjust="spacingAndGlyphs" stroke="#000" stroke-width="1.15" stroke-linejoin="round">−0.0006</text>
<rect x="159.5" y="965.5" width="891" height="193" fill="none" stroke="#000" stroke-width="1"/>
<g stroke="#000" stroke-width="1">
<rect x="159.5" y="985.5" width="9" height="173.0" fill="#f2b8d0"/>
<rect x="168.5" y="1004.5" width="9" height="154.0" fill="#c96688"/>
<rect x="177.5" y="1004.5" width="9" height="154.0" fill="#5a4040"/>
<rect x="186.5" y="1000.5" width="9" height="158.0" fill="#d08598"/>
<rect x="195.5" y="1035.5" width="9" height="123.0" fill="#a85468"/>
<rect x="204.5" y="1002.5" width="9" height="156.0" fill="#9a6468"/>
<rect x="213.5" y="1023.5" width="9" height="135.0" fill="#8c4c40"/>
<rect x="222.5" y="1033.5" width="9" height="125.0" fill="#8c4c40"/>
<rect x="231.5" y="971.5" width="9" height="187.0" fill="#404040"/>
<rect x="240.5" y="1012.5" width="9" height="146.0" fill="#f58070"/>
<rect x="249.5" y="1019.5" width="9" height="139.0" fill="#cc6050"/>
<rect x="258.5" y="1019.5" width="9" height="139.0" fill="#d86450"/>
<rect x="267.5" y="1002.5" width="9" height="156.0" fill="#8c4c3c"/>
<rect x="276.5" y="977.5" width="9" height="181.0" fill="#b8a8a0"/>
<rect x="285.5" y="989.5" width="9" height="169.0" fill="#c09888"/>
<rect x="294.5" y="1017.5" width="9" height="141.0" fill="#8c4c40"/>
<rect x="303.5" y="1010.5" width="9" height="148.0" fill="#8a5040"/>
<rect x="312.5" y="992.5" width="9" height="166.0" fill="#8c6458"/>
<rect x="321.5" y="1010.5" width="9" height="148.0" fill="#c88850"/>
<rect x="330.5" y="1035.5" width="9" height="123.0" fill="#d08828"/>
<rect x="339.5" y="1019.5" width="9" height="139.0" fill="#fcc070"/>
<rect x="348.5" y="1017.5" width="9" height="141.0" fill="#f09848"/>
<rect x="357.5" y="983.5" width="9" height="175.0" fill="#f0dcb8"/>
<rect x="366.5" y="1004.5" width="9" height="154.0" fill="#fcc488"/>
<rect x="375.5" y="1019.5" width="9" height="139.0" fill="#d08828"/>
<rect x="384.5" y="1008.5" width="9" height="150.0" fill="#f8c868"/>
<rect x="393.5" y="977.5" width="9" height="181.0" fill="#b8a880"/>
<rect x="402.5" y="985.5" width="9" height="173.0" fill="#6c6040"/>
<rect x="411.5" y="998.5" width="9" height="160.0" fill="#f8c868"/>
<rect x="420.5" y="977.5" width="9" height="181.0" fill="#a89c68"/>
<rect x="429.5" y="994.5" width="9" height="164.0" fill="#f8c868"/>
<rect x="438.5" y="1008.5" width="9" height="150.0" fill="#ccaa38"/>
<rect x="447.5" y="985.5" width="9" height="173.0" fill="#e8d8a0"/>
<rect x="456.5" y="996.5" width="9" height="162.0" fill="#a09838"/>
<rect x="465.5" y="983.5" width="9" height="175.0" fill="#6c6038"/>
<rect x="474.5" y="989.5" width="9" height="169.0" fill="#c0c0b0"/>
<rect x="483.5" y="985.5" width="9" height="173.0" fill="#686038"/>
<rect x="492.5" y="971.5" width="9" height="187.0" fill="#d4d4a0"/>
<rect x="501.5" y="969.5" width="9" height="189.0" fill="#4c4c48"/>
<rect x="510.5" y="975.5" width="9" height="183.0" fill="#707850"/>
<rect x="519.5" y="967.5" width="9" height="191.0" fill="#d4e0b8"/>
<rect x="528.5" y="981.5" width="9" height="177.0" fill="#94a838"/>
<rect x="537.5" y="989.5" width="9" height="169.0" fill="#98b838"/>
<rect x="546.5" y="967.5" width="9" height="191.0" fill="#404040"/>
<rect x="555.5" y="979.5" width="9" height="179.0" fill="#6c9858"/>
<rect x="564.5" y="985.5" width="9" height="173.0" fill="#88a870"/>
<rect x="573.5" y="975.5" width="9" height="183.0" fill="#90b080"/>
<rect x="582.5" y="994.5" width="9" height="164.0" fill="#a0d490"/>
<rect x="591.5" y="985.5" width="9" height="173.0" fill="#407048"/>
<rect x="600.5" y="979.5" width="9" height="179.0" fill="#609068"/>
<rect x="609.5" y="979.5" width="9" height="179.0" fill="#689078"/>
<rect x="618.5" y="979.5" width="9" height="179.0" fill="#407048"/>
<rect x="627.5" y="989.5" width="9" height="169.0" fill="#109088"/>
<rect x="636.5" y="985.5" width="9" height="173.0" fill="#b8e4d4"/>
<rect x="645.5" y="989.5" width="9" height="169.0" fill="#a8e0cc"/>
<rect x="654.5" y="996.5" width="9" height="162.0" fill="#50b8a0"/>
<rect x="663.5" y="996.5" width="9" height="162.0" fill="#109890"/>
<rect x="672.5" y="996.5" width="9" height="162.0" fill="#109088"/>
<rect x="681.5" y="985.5" width="9" height="173.0" fill="#b8e4d4"/>
<rect x="690.5" y="983.5" width="9" height="175.0" fill="#d0dcdc"/>
<rect x="699.5" y="992.5" width="9" height="166.0" fill="#a8c0c0"/>
<rect x="708.5" y="989.5" width="9" height="169.0" fill="#98a4a0"/>
<rect x="717.5" y="992.5" width="9" height="166.0" fill="#4c4c48"/>
<rect x="726.5" y="1008.5" width="9" height="150.0" fill="#10a098"/>
<rect x="735.5" y="1012.5" width="9" height="146.0" fill="#386868"/>
<rect x="744.5" y="1014.5" width="9" height="144.0" fill="#108878"/>
<rect x="753.5" y="1017.5" width="9" height="141.0" fill="#108c80"/>
<rect x="762.5" y="1010.5" width="9" height="148.0" fill="#80a4a8"/>
<rect x="771.5" y="1002.5" width="9" height="156.0" fill="#6c848c"/>
<rect x="780.5" y="1017.5" width="9" height="141.0" fill="#70c8dc"/>
<rect x="789.5" y="1025.5" width="9" height="133.0" fill="#205870"/>
<rect x="798.5" y="987.5" width="9" height="171.0" fill="#a8c0c0"/>
<rect x="807.5" y="1031.5" width="9" height="127.0" fill="#2090c8"/>
<rect x="816.5" y="977.5" width="9" height="181.0" fill="#404040"/>
<rect x="825.5" y="1019.5" width="9" height="139.0" fill="#205870"/>
<rect x="834.5" y="1019.5" width="9" height="139.0" fill="#2878b0"/>
<rect x="843.5" y="1000.5" width="9" height="158.0" fill="#407890"/>
<rect x="852.5" y="1019.5" width="9" height="139.0" fill="#2878b0"/>
<rect x="861.5" y="985.5" width="9" height="173.0" fill="#a0b0d8"/>
<rect x="870.5" y="989.5" width="9" height="169.0" fill="#98a4d0"/>
<rect x="879.5" y="1000.5" width="9" height="158.0" fill="#407898"/>
<rect x="888.5" y="975.5" width="9" height="183.0" fill="#d4d8e0"/>
<rect x="897.5" y="975.5" width="9" height="183.0" fill="#a8acd4"/>
<rect x="906.5" y="985.5" width="9" height="173.0" fill="#404040"/>
<rect x="915.5" y="1002.5" width="9" height="156.0" fill="#5c5464"/>
<rect x="924.5" y="1012.5" width="9" height="146.0" fill="#a090c8"/>
<rect x="933.5" y="996.5" width="9" height="162.0" fill="#684878"/>
<rect x="942.5" y="991.5" width="9" height="167.0" fill="#a084c0"/>
<rect x="951.5" y="1008.5" width="9" height="150.0" fill="#684c78"/>
<rect x="960.5" y="991.5" width="9" height="167.0" fill="#785088"/>
<rect x="969.5" y="1012.5" width="9" height="146.0" fill="#c0c0c0"/>
<rect x="978.5" y="1033.5" width="9" height="125.0" fill="#908490"/>
<rect x="987.5" y="1006.5" width="9" height="152.0" fill="#b894b0"/>
<rect x="996.5" y="1037.5" width="9" height="121.0" fill="#704868"/>
<rect x="1005.5" y="1017.5" width="9" height="141.0" fill="#b894b4"/>
<rect x="1014.5" y="998.5" width="9" height="160.0" fill="#d8a8cc"/>
<rect x="1023.5" y="985.5" width="9" height="173.0" fill="#a85070"/>
<rect x="1032.5" y="996.5" width="9" height="162.0" fill="#d07898"/>
<rect x="1041.5" y="1016.5" width="9" height="142.0" fill="#a85070"/>
</g>
<rect x="196.5" y="1037.0" width="7" height="120.5" fill="url(#dw)"/>
<rect x="205.5" y="1004.0" width="7" height="153.5" fill="url(#dw)"/>
<rect x="250.5" y="1021.0" width="7" height="136.5" fill="url(#dw)"/>
<rect x="304.5" y="1012.0" width="7" height="145.5" fill="url(#dw)"/>
<rect x="313.5" y="994.0" width="7" height="163.5" fill="url(#dw)"/>
<rect x="322.5" y="1012.0" width="7" height="145.5" fill="url(#dw)"/>
<rect x="340.5" y="1021.0" width="7" height="136.5" fill="url(#dw)"/>
<rect x="403.5" y="987.0" width="7" height="170.5" fill="url(#dw)"/>
<rect x="421.5" y="979.0" width="7" height="178.5" fill="url(#dw)"/>
<rect x="457.5" y="998.0" width="7" height="159.5" fill="url(#dw)"/>
<rect x="484.5" y="987.0" width="7" height="170.5" fill="url(#dw)"/>
<rect x="556.5" y="981.0" width="7" height="176.5" fill="url(#dw)"/>
<rect x="565.5" y="987.0" width="7" height="170.5" fill="url(#dw)"/>
<rect x="574.5" y="977.0" width="7" height="180.5" fill="url(#dw)"/>
<rect x="601.5" y="981.0" width="7" height="176.5" fill="url(#dc)"/>
<rect x="610.5" y="981.0" width="7" height="176.5" fill="url(#dc)"/>
<rect x="628.5" y="991.0" width="7" height="166.5" fill="url(#dc)"/>
<rect x="655.5" y="998.0" width="7" height="159.5" fill="url(#dc)"/>
<rect x="664.5" y="998.0" width="7" height="159.5" fill="url(#dc)"/>
<rect x="673.5" y="998.0" width="7" height="159.5" fill="url(#dc)"/>
<rect x="700.5" y="994.0" width="7" height="163.5" fill="url(#dc)"/>
<rect x="727.5" y="1010.0" width="7" height="147.5" fill="url(#dc)"/>
<rect x="745.5" y="1016.0" width="7" height="141.5" fill="url(#dc)"/>
<rect x="754.5" y="1019.0" width="7" height="138.5" fill="url(#dc)"/>
<rect x="763.5" y="1012.0" width="7" height="145.5" fill="url(#dc)"/>
<rect x="781.5" y="1019.0" width="7" height="138.5" fill="url(#dc)"/>
<rect x="799.5" y="989.0" width="7" height="168.5" fill="url(#dc)"/>
<rect x="808.5" y="1033.0" width="7" height="124.5" fill="url(#dc)"/>
<rect x="844.5" y="1002.0" width="7" height="155.5" fill="url(#dc)"/>
<rect x="853.5" y="1021.0" width="7" height="136.5" fill="url(#dc)"/>
<rect x="862.5" y="987.0" width="7" height="170.5" fill="url(#dc)"/>
<rect x="871.5" y="991.0" width="7" height="166.5" fill="url(#dc)"/>
<rect x="880.5" y="1002.0" width="7" height="155.5" fill="url(#dc)"/>
<rect x="898.5" y="977.0" width="7" height="180.5" fill="url(#dc)"/>
<rect x="925.5" y="1014.0" width="7" height="143.5" fill="url(#dc)"/>
<rect x="934.5" y="998.0" width="7" height="159.5" fill="url(#dc)"/>
<rect x="961.5" y="993.0" width="7" height="164.5" fill="url(#dc)"/>
<rect x="988.5" y="1008.0" width="7" height="149.5" fill="url(#dw)"/>
<rect x="997.5" y="1039.0" width="7" height="118.5" fill="url(#dw)"/>
<rect x="1006.5" y="1019.0" width="7" height="138.5" fill="url(#dw)"/>
<rect x="1024.5" y="987.0" width="7" height="170.5" fill="url(#dw)"/>
<rect x="1033.5" y="998.0" width="7" height="159.5" fill="url(#dw)"/>
<rect x="1042.5" y="1018.0" width="7" height="139.5" fill="url(#dw)"/>
<path stroke="#000" stroke-width="1" fill="none" d="M154.5,965.50h5M154.5,985.50h5M154.5,1004.50h5M154.5,1023.50h5M154.5,1043.50h5M154.5,1062.50h5M154.5,1081.50h5M154.5,1100.50h5M154.5,1120.50h5M154.5,1139.50h5M154.5,1158.50h5"/>
<text x="149.50" y="970.20" font-size="16" text-anchor="end" textLength="33.59" lengthAdjust="spacingAndGlyphs">100</text>
<text x="149.50" y="990.20" font-size="16" text-anchor="end" textLength="22.40" lengthAdjust="spacingAndGlyphs">90</text>
<text x="149.50" y="1009.20" font-size="16" text-anchor="end" textLength="22.40" lengthAdjust="spacingAndGlyphs">80</text>
<text x="149.50" y="1028.20" font-size="16" text-anchor="end" textLength="22.40" lengthAdjust="spacingAndGlyphs">70</text>
<text x="149.50" y="1048.20" font-size="16" text-anchor="end" textLength="22.40" lengthAdjust="spacingAndGlyphs">60</text>
<text x="149.50" y="1067.20" font-size="16" text-anchor="end" textLength="22.40" lengthAdjust="spacingAndGlyphs">50</text>
<text x="149.50" y="1086.20" font-size="16" text-anchor="end" textLength="22.40" lengthAdjust="spacingAndGlyphs">40</text>
<text x="149.50" y="1105.20" font-size="16" text-anchor="end" textLength="22.40" lengthAdjust="spacingAndGlyphs">30</text>
<text x="149.50" y="1125.20" font-size="16" text-anchor="end" textLength="22.40" lengthAdjust="spacingAndGlyphs">20</text>
<text x="149.50" y="1144.20" font-size="16" text-anchor="end" textLength="22.40" lengthAdjust="spacingAndGlyphs">10</text>
<text x="149.50" y="1163.20" font-size="16" text-anchor="end" textLength="11.20" lengthAdjust="spacingAndGlyphs">0</text>
<text x="164.00" y="1179.00" font-size="16" text-anchor="middle" textLength="11.20" lengthAdjust="spacingAndGlyphs">1</text>
<text x="200.00" y="1179.00" font-size="16" text-anchor="middle" textLength="11.20" lengthAdjust="spacingAndGlyphs">5</text>
<text x="236.00" y="1179.00" font-size="16" text-anchor="middle" textLength="11.20" lengthAdjust="spacingAndGlyphs">9</text>
<text x="272.00" y="1179.00" font-size="16" text-anchor="middle" textLength="22.40" lengthAdjust="spacingAndGlyphs">13</text>
<text x="308.00" y="1179.00" font-size="16" text-anchor="middle" textLength="22.40" lengthAdjust="spacingAndGlyphs">17</text>
<text x="344.00" y="1179.00" font-size="16" text-anchor="middle" textLength="22.40" lengthAdjust="spacingAndGlyphs">21</text>
<text x="380.00" y="1179.00" font-size="16" text-anchor="middle" textLength="22.40" lengthAdjust="spacingAndGlyphs">25</text>
<text x="416.00" y="1179.00" font-size="16" text-anchor="middle" textLength="22.40" lengthAdjust="spacingAndGlyphs">29</text>
<text x="452.00" y="1179.00" font-size="16" text-anchor="middle" textLength="22.40" lengthAdjust="spacingAndGlyphs">33</text>
<text x="488.00" y="1179.00" font-size="16" text-anchor="middle" textLength="22.40" lengthAdjust="spacingAndGlyphs">37</text>
<text x="524.00" y="1179.00" font-size="16" text-anchor="middle" textLength="22.40" lengthAdjust="spacingAndGlyphs">41</text>
<text x="560.00" y="1179.00" font-size="16" text-anchor="middle" textLength="22.40" lengthAdjust="spacingAndGlyphs">45</text>
<text x="596.00" y="1179.00" font-size="16" text-anchor="middle" textLength="22.40" lengthAdjust="spacingAndGlyphs">49</text>
<text x="632.00" y="1179.00" font-size="16" text-anchor="middle" textLength="22.40" lengthAdjust="spacingAndGlyphs">53</text>
<text x="668.00" y="1179.00" font-size="16" text-anchor="middle" textLength="22.40" lengthAdjust="spacingAndGlyphs">57</text>
<text x="704.00" y="1179.00" font-size="16" text-anchor="middle" textLength="22.40" lengthAdjust="spacingAndGlyphs">61</text>
<text x="740.00" y="1179.00" font-size="16" text-anchor="middle" textLength="22.40" lengthAdjust="spacingAndGlyphs">65</text>
<text x="776.00" y="1179.00" font-size="16" text-anchor="middle" textLength="22.40" lengthAdjust="spacingAndGlyphs">69</text>
<text x="812.00" y="1179.00" font-size="16" text-anchor="middle" textLength="22.40" lengthAdjust="spacingAndGlyphs">73</text>
<text x="848.00" y="1179.00" font-size="16" text-anchor="middle" textLength="22.40" lengthAdjust="spacingAndGlyphs">77</text>
<text x="884.00" y="1179.00" font-size="16" text-anchor="middle" textLength="22.40" lengthAdjust="spacingAndGlyphs">81</text>
<text x="920.00" y="1179.00" font-size="16" text-anchor="middle" textLength="22.40" lengthAdjust="spacingAndGlyphs">85</text>
<text x="956.00" y="1179.00" font-size="16" text-anchor="middle" textLength="22.40" lengthAdjust="spacingAndGlyphs">89</text>
<text x="992.00" y="1179.00" font-size="16" text-anchor="middle" textLength="22.40" lengthAdjust="spacingAndGlyphs">93</text>
<text x="1028.00" y="1179.00" font-size="16" text-anchor="middle" textLength="22.40" lengthAdjust="spacingAndGlyphs">97</text>
<text x="605.00" y="1199.50" font-size="16" text-anchor="middle" textLength="79.00" lengthAdjust="spacingAndGlyphs">CES Color</text>
<text x="100.00" y="1068.50" font-size="16" text-anchor="middle" textLength="230.00" lengthAdjust="spacingAndGlyphs" transform="rotate(-90 100.00 1068.50)">Color Sample Fidelity, R<tspan font-size="12.5" dy="8">f,CESi</tspan></text>
<rect x="145.3" y="1216" width="454.5" height="208" fill="#e6e6e6"/>
<text x="90.00" y="1231.00" font-size="15.5" font-weight="bold" textLength="56.00" lengthAdjust="spacingAndGlyphs">Notes:</text>
<text x="154.80" y="1236.00" font-size="16" textLength="57.50" lengthAdjust="spacingAndGlyphs">Level 3</text>
<rect x="771.5" y="1216.5" width="198" height="208" fill="none" stroke="#000" stroke-width="1"/>
<text x="870.00" y="1245.70" font-size="15.5" text-anchor="middle" font-weight="bold" textLength="126.50" lengthAdjust="spacingAndGlyphs">CIE 13.3-1995</text>
<text x="870.50" y="1276.00" font-size="15.5" text-anchor="middle" font-weight="bold" textLength="41.00" lengthAdjust="spacingAndGlyphs">(CRI)</text>
<text x="841.70" y="1306.00" font-size="15.5" font-weight="bold">R<tspan font-size="11.5" dy="7.3">a</tspan></text>
<text x="878.70" y="1306.00" font-size="15.5" font-weight="bold" textLength="20.60" lengthAdjust="spacingAndGlyphs">82</text>
<text x="847.00" y="1336.00" font-size="15.5" font-weight="bold">R<tspan font-size="11.5" dy="6.7">9</tspan></text>
<text x="884.30" y="1336.00" font-size="15.5" font-weight="bold">4</text>
<text x="640.70" y="1251.00" font-size="15.5" font-weight="bold">x</text>
<text x="675.00" y="1251.00" font-size="15.5" font-weight="bold" textLength="57.30" lengthAdjust="spacingAndGlyphs">0.3604</text>
<text x="640.70" y="1280.70" font-size="15.5" font-weight="bold">y</text>
<text x="675.00" y="1280.70" font-size="15.5" font-weight="bold" textLength="57.30" lengthAdjust="spacingAndGlyphs">0.3621</text>
<text x="640.70" y="1310.70" font-size="15.5" font-weight="bold">u'</text>
<text x="673.70" y="1310.70" font-size="15.5" font-weight="bold" textLength="58.00" lengthAdjust="spacingAndGlyphs">0.2176</text>
<text x="640.70" y="1340.70" font-size="15.5" font-weight="bold">v'</text>
<text x="672.70" y="1340.70" font-size="15.5" font-weight="bold" textLength="58.00" lengthAdjust="spacingAndGlyphs">0.4920</text>
<text x="600.70" y="1450.00" font-size="15.5" text-anchor="middle" font-weight="bold" textLength="424.50" lengthAdjust="spacingAndGlyphs">Colors are for visual orientation purposes only.</text>
<g>
<path d="M771,611.5 L854.5,637.5 L851.5,683.5 L772.5,709 L695.5,684.5 L687.5,637.5 Z" fill="#2c4459" stroke="#f5eed2" stroke-width="3" stroke-linejoin="round"/>
<path d="M757.6,619.8h27v4h-27z M771,624 L785.8,637.2 H757.1 Z" fill="#f07c27"/>
<path d="M771.2,628 L776.5,633.3 H765.8 Z" fill="#2c4459"/>
<path d="M752,646 L766,639 L763,646 Z M768.5,639 h5.5 l0.8,7 h-7 Z M776.5,639 L790.5,646 H779.5 Z" fill="#f6c433"/>
<path d="M698.2,674.1 H733 L718.8,688.7 L699.8,681.5 Z M760.7,673.6 H783.7 L791.6,697.4 L772.6,704.5 L752,697.4 Z M811.4,674.1 H846.2 L844.7,681.5 L825.7,688.7 Z" fill="#f6c433"/>
</g>
<text x="697.30" y="670.10" font-size="27.2" font-weight="bold" textLength="142.60" lengthAdjust="spacingAndGlyphs" fill="#f07c27" stroke="#f07c27" stroke-width="1.7" stroke-linejoin="miter" style="font-family:'Liberation Sans',sans-serif">ZEROAIR</text>
<text x="848.40" y="670.30" font-size="8.3" font-weight="bold" textLength="19.80" lengthAdjust="spacingAndGlyphs" fill="#f07c27" transform="rotate(-90 848.40 670.30)" style="font-family:'Liberation Sans',sans-serif">ORG</text>
</svg></div></body></html>
